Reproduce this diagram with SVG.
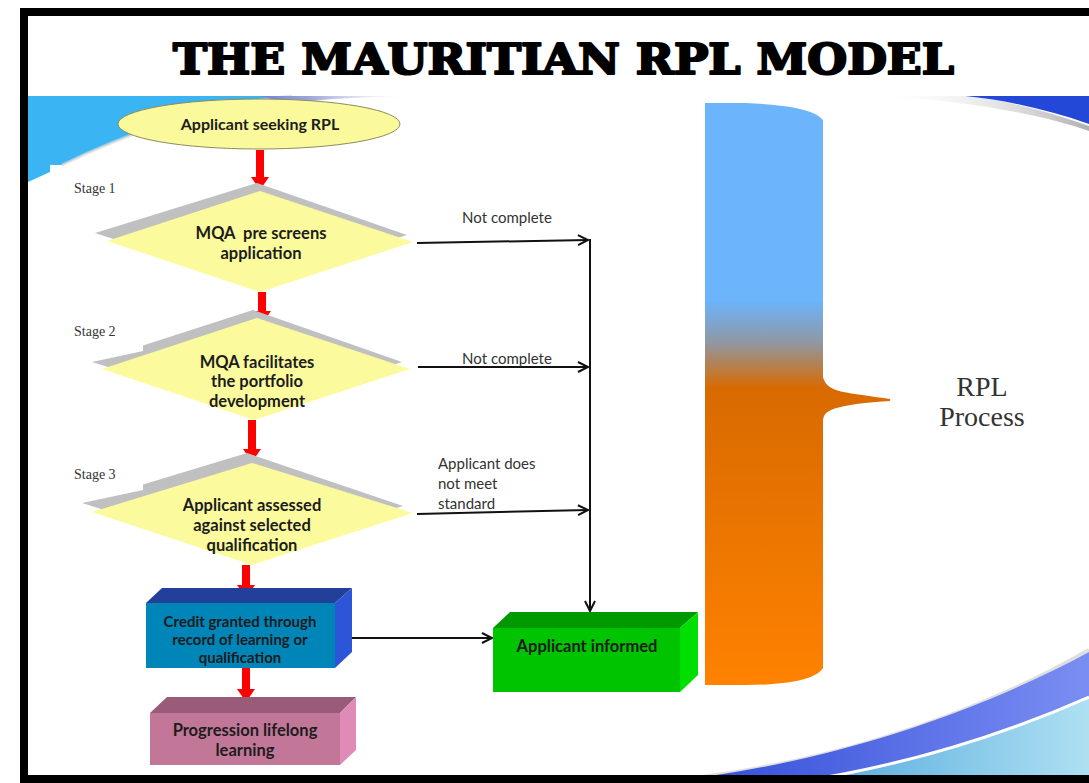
<svg xmlns="http://www.w3.org/2000/svg" width="1089" height="783" viewBox="0 0 1089 783">
<defs>
<style>
.node{font-family:Lato,"Liberation Sans",sans-serif;font-weight:bold;fill:#1c1c1c;text-anchor:middle}
.lbl{font-family:Lato,"Liberation Sans",sans-serif;font-size:15px;fill:#333}
.stage{font-family:"Liberation Serif",serif;font-size:14px;fill:#333}
.conn{stroke:#111;stroke-width:2;fill:none}
.red{fill:#ff0000}
.shadow{fill:#c0c0c0}
.dia{fill:#fbfb9d}
</style>
<marker id="arr" markerUnits="userSpaceOnUse" markerWidth="14" markerHeight="14" refX="11" refY="6" orient="auto">
<path d="M1,1 L11,6 L1,11" fill="none" stroke="#111" stroke-width="2"/>
</marker>
<linearGradient id="col" gradientUnits="userSpaceOnUse" x1="0" y1="103" x2="0" y2="685">
<stop offset="0" stop-color="#6cb4fb"/>
<stop offset="0.34" stop-color="#6cb4fb"/>
<stop offset="0.41" stop-color="#8f98a6"/>
<stop offset="0.49" stop-color="#d86a00"/>
<stop offset="1" stop-color="#ff8200"/>
</linearGradient>
<linearGradient id="dkblue" x1="0" y1="0" x2="1" y2="0">
<stop offset="0" stop-color="#2c46d6"/>
<stop offset="1" stop-color="#7a8ef2"/>
</linearGradient>
<linearGradient id="ltblue" x1="0" y1="0" x2="1" y2="0">
<stop offset="0" stop-color="#4ea6dc"/>
<stop offset="1" stop-color="#aee0f2"/>
</linearGradient>
<linearGradient id="fadeL" x1="0" y1="0" x2="1" y2="0">
<stop offset="0" stop-color="#7080e0"/>
<stop offset="0.3" stop-color="#a0a8d8"/>
<stop offset="1" stop-color="#ffffff" stop-opacity="0"/>
</linearGradient>
<linearGradient id="fadeR" x1="0" y1="0" x2="1" y2="0">
<stop offset="0" stop-color="#ffffff" stop-opacity="0"/>
<stop offset="1" stop-color="#b0b0b0"/>
</linearGradient>
</defs>

<rect x="0" y="0" width="1089" height="783" fill="#ffffff"/>

<g id="background">
<path d="M28,96 L292,96 C210,104 130,132 62,165 L50,165 L50,172 L28,182 Z" fill="#3bb4f4"/>
<path d="M292,96 C210,104 130,132 62,165" fill="none" stroke="#d8d8d8" stroke-width="3" opacity="0.7"/>
<path d="M260,96 L430,96 C370,96 320,99 285,104 C275,100 268,98 260,96 Z" fill="url(#fadeL)"/>
<path d="M870,96 L965,96 C1005,100 1050,112 1089,126 L1089,131 C1040,114 960,99 870,96 Z" fill="url(#fadeR)"/>
<path d="M965,96 L1089,96 L1089,124 C1050,110 1005,100 965,96 Z" fill="#2348d8"/>
<path d="M640,783 C800,772 960,724 1089,650" fill="none" stroke="#c8c8c8" stroke-width="4" opacity="0.6"/>
<path d="M650,783 C800,770 960,722 1089,652 L1089,697 C980,745 880,770 790,783 Z" fill="url(#dkblue)"/>
<path d="M790,783 C880,770 980,745 1089,697 L1089,783 Z" fill="url(#ltblue)"/>
<path d="M790,783 C880,770 980,745 1089,697" fill="none" stroke="#ffffff" stroke-width="3"/>
</g>

<g id="frame" fill="#000">
<rect x="20" y="8" width="1069" height="8"/>
<rect x="20" y="8" width="8" height="775"/>
<rect x="20" y="775" width="1069" height="8"/>
</g>

<g id="title">
<text x="173" y="74" textLength="781" lengthAdjust="spacingAndGlyphs" font-family="'DejaVu Serif',serif" font-weight="bold" font-size="43" fill="#000" stroke="#000" stroke-width="2.2" stroke-linejoin="round">THE MAURITIAN RPL MODEL</text>
</g>

<g id="rpl-process">
<path d="M705,103 L745,103 C790,105 815,110 823,120 L823,377 C826,388 835,391 855,394 C870,396 882,398 890,399 L890,401 C875,402 860,403 845,406 C830,409 824,412 823,420 L823,668 C815,681 780,685 745,685 L705,685 Z" fill="url(#col)"/>
<text x="982" y="396" text-anchor="middle" font-family="'Liberation Serif',serif" font-size="28" fill="#333">RPL</text>
<text x="982" y="426" text-anchor="middle" font-family="'Liberation Serif',serif" font-size="28" fill="#333">Process</text>
</g>

<g id="connectors">
<line class="conn" x1="417" y1="243" x2="588" y2="240" marker-end="url(#arr)"/>
<line class="conn" x1="418" y1="367" x2="588" y2="367" marker-end="url(#arr)"/>
<line class="conn" x1="417" y1="514" x2="588" y2="510" marker-end="url(#arr)"/>
<line class="conn" x1="590" y1="239" x2="590" y2="611" marker-end="url(#arr)"/>
<line class="conn" x1="344" y1="638" x2="492" y2="638" marker-end="url(#arr)"/>
<text class="lbl" x="507" y="223" text-anchor="middle">Not complete</text>
<text class="lbl" x="507" y="364" text-anchor="middle">Not complete</text>
<text class="lbl" x="438" y="469" font-size="17.5">Applicant does</text>
<text class="lbl" x="438" y="489" font-size="17.5">not meet</text>
<text class="lbl" x="438" y="509" font-size="17.5">standard</text>
<polygon class="red" points="256,150 264,150 264,177 269,177 260,190 251,177 256,177"/>
<polygon class="red" points="258,292 266,292 266,311 271,311 262,324 253,311 258,311"/>
<polygon class="red" points="248,420 256,420 256,449 261,449 252,462 243,449 248,449"/>
<polygon class="red" points="242,565 250,565 250,585 255,585 246,598 237,585 242,585"/>
<polygon class="red" points="242,668 250,668 250,689 255,689 246,702 237,689 242,689"/>
</g>

<g id="start">
<ellipse cx="259" cy="124" rx="141" ry="25" fill="#fafa9c" stroke="#8c8c5c" stroke-width="1"/>
<text class="node" x="260" y="129.5" font-size="16">Applicant seeking RPL</text>
</g>

<g id="stage1">
<text class="stage" x="74" y="193">Stage 1</text>
<polygon class="shadow" points="257,183 407,235 252,284 95,233"/>
<polygon class="dia" points="260,191 413,242 260,292 107,241"/>
<text class="node" x="261" y="239" font-size="16.5" xml:space="preserve">MQA  pre screens</text>
<text class="node" x="261" y="259" font-size="16.5">application</text>
</g>

<g id="stage2">
<text class="stage" x="74" y="336">Stage 2</text>
<polygon class="shadow" points="253,310 402,362 250,412 92,362 143,351 143,345.5"/>
<polygon class="dia" points="257,318 410,369 254,420 102,369"/>
<text class="node" x="257" y="368" font-size="16.5">MQA facilitates</text>
<text class="node" x="257" y="387" font-size="16.5">the portfolio</text>
<text class="node" x="257" y="407" font-size="16.5">development</text>
</g>

<g id="stage3">
<text class="stage" x="74" y="479">Stage 3</text>
<polygon class="shadow" points="247,453 403,506 248,555 82,503 143,490 143,484.5"/>
<polygon class="dia" points="252,463 413,513 252,565 92,512"/>
<text class="node" x="252" y="511" font-size="16.5">Applicant assessed</text>
<text class="node" x="252" y="531" font-size="16.5">against selected</text>
<text class="node" x="252" y="551" font-size="16.5">qualification</text>
</g>

<g id="credit">
<polygon points="146,603 162,588 352,588 335,603" fill="#233f9a"/>
<polygon points="335,603 352,588 352,652 335,668" fill="#2c55d8"/>
<rect x="146" y="603" width="189" height="65" fill="#0085b8"/>
<text class="node" x="240" y="627" font-size="15" fill="#141430">Credit granted through</text>
<text class="node" x="240" y="645" font-size="15" fill="#141430">record of learning or</text>
<text class="node" x="240" y="663" font-size="15" fill="#141430">qualification</text>
</g>

<g id="progression">
<polygon points="150,713 167,697 356,697 340,713" fill="#9a5b78"/>
<polygon points="340,713 356,697 356,750 340,765" fill="#e08ab8"/>
<rect x="150" y="713" width="190" height="52" fill="#c27799"/>
<text class="node" x="245" y="736" font-size="16.5">Progression lifelong</text>
<text class="node" x="245" y="756" font-size="16.5">learning</text>
</g>

<g id="informed">
<polygon points="493,628 510,612 698,612 680,628" fill="#009a00"/>
<polygon points="680,628 698,612 698,675 680,692" fill="#00e000"/>
<rect x="493" y="628" width="187" height="64" fill="#00c400"/>
<text class="node" x="587" y="652" font-size="16.5">Applicant informed</text>
</g>
</svg>
